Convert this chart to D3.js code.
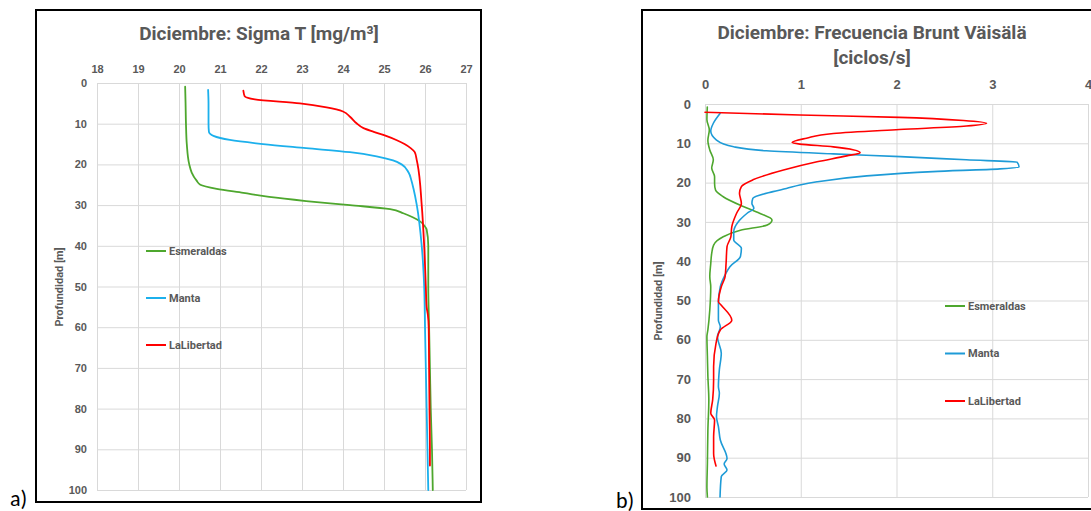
<!DOCTYPE html>
<meta charset="utf-8">
<style>

body {
  margin: 0;
  background: #fff;
}

svg {
  display: block;
  font-family: "Roboto", "Liberation Sans", sans-serif;
}

.grid line {
  stroke: #d9d9d9;
  stroke-width: 1;
}

.grid text {
  fill: #595959;
  font-weight: bold;
}

.title, .ylabel, .legend text {
  fill: #595959;
  font-weight: bold;
}

.profile {
  fill: none;
  stroke-linejoin: round;
  stroke-linecap: round;
}

.box {
  fill: none;
  stroke: #000;
  stroke-width: 2;
}

.panel {
  font-family: Calibri, "Liberation Sans", "Open Sans", sans-serif;
  font-size: 22px;
  fill: #000;
}

</style>
<svg width="1091" height="511"></svg>
<script src="https://cdn.jsdelivr.net/npm/d3@7"></script>
<script>

// ---- data ----
var seriesNames = ["Esmeraldas", "Manta", "LaLibertad"];
var depthTicks = [0, 10, 20, 30, 40, 50, 60, 70, 80, 90, 100];
var sigmaTicks = [18, 19, 20, 21, 22, 23, 24, 25, 26, 27];
var bvTicks = [0, 1, 2, 3, 4];

// a) Sigma T
var esmSigmaDepth = [0.9, 5, 10, 15, 20, 22, 24, 25, 26, 27, 28, 29, 30, 31, 32, 33, 34, 35, 36, 40, 50, 60, 70, 80, 90, 100];
var esmSigma      = [20.15, 20.16, 20.17, 20.19, 20.25, 20.31, 20.43, 20.52, 20.92, 21.57, 22.2, 23.1, 24.17, 25.15, 25.47, 25.7, 25.88, 25.98, 26.04, 26.08, 26.08, 26.1, 26.12, 26.14, 26.17, 26.19];

var manSigmaDepth = [1.7, 5, 10, 12, 12.5, 13, 14, 15, 16, 17, 18, 19, 20, 22, 24, 26, 30, 40, 50, 60, 70, 80, 90, 100];
var manSigma      = [20.71, 20.72, 20.72, 20.73, 20.76, 20.84, 21.24, 22.05, 23.1, 24.17, 24.82, 25.22, 25.43, 25.6, 25.67, 25.72, 25.8, 25.92, 25.98, 26.0, 26.02, 26.04, 26.06, 26.08];

var libSigmaDepth = [1.9, 3.2, 4, 5, 6, 7, 8.3, 9.9, 11.1, 12, 13, 14, 15, 16, 17, 19, 20, 30, 40, 50, 55, 57, 60, 70, 80, 90, 94];
var libSigma      = [21.57, 21.6, 21.85, 22.95, 23.6, 24.0, 24.17, 24.33, 24.5, 24.75, 25.05, 25.3, 25.5, 25.65, 25.75, 25.8, 25.82, 25.92, 25.98, 26.02, 26.04, 26.07, 26.09, 26.1, 26.11, 26.12, 26.12];

// b) Brunt-Vaisala
var esmBvDepth = [0.8, 4, 6.6, 9.2, 11.7, 14.2, 16.3, 18.5, 20.2, 21.9, 23.6, 26.1, 27.8, 29.5, 30.8, 32.1, 33.8, 35.9, 38, 40.6, 43.9, 46.5, 52.4, 57.5, 59.2, 64.2, 69.3, 75.3, 83, 91.5, 97.5, 100];
var esmBv      = [0.024, 0.02, 0.045, 0.03, 0.05, 0.087, 0.07, 0.1, 0.1, 0.11, 0.19, 0.4, 0.57, 0.7, 0.65, 0.37, 0.19, 0.09, 0.07, 0.06, 0.05, 0.06, 0.05, 0.03, 0.02, 0.025, 0.03, 0.04, 0.03, 0.025, 0.02, 0.025];

var manBvDepth = [2.4, 4.9, 6.9, 9.2, 10.9, 11.9, 12.7, 13.4, 14.2, 14.8, 16.0, 16.5, 17.2, 18.3, 19.8, 20.6, 21.5, 22.3, 24.0, 25.3, 26.5, 27.8, 29.9, 32.5, 34.6, 36.7, 38.8, 41.4, 43.5, 46.5, 50.7, 55, 56.7, 59.2, 63.4, 67.6, 71.9, 73.6, 77, 79.6, 82.1, 85.5, 90.2, 91.6, 93.1, 94.8, 100];
var manBv      = [0.157, 0.087, 0.06, 0.12, 0.3, 0.64, 1.34, 2.04, 2.73, 3.26, 3.28, 3.08, 2.38, 1.69, 1.17, 0.99, 0.85, 0.71, 0.5, 0.49, 0.51, 0.44, 0.35, 0.3, 0.3, 0.38, 0.37, 0.26, 0.21, 0.16, 0.14, 0.14, 0.16, 0.13, 0.17, 0.15, 0.14, 0.15, 0.13, 0.12, 0.14, 0.16, 0.23, 0.2, 0.23, 0.17, 0.157];

var libBvDepth = [2.1, 2.8, 3.4, 4.2, 4.9, 5.6, 6.5, 7.5, 8.7, 9.8, 10.2, 10.9, 12.4, 13.2, 14.7, 16.8, 19.3, 21.0, 22.7, 25.3, 27.8, 31.2, 33.8, 36.3, 40.6, 43.9, 46.5, 50.3, 51.2, 55, 57.5, 60.9, 66.8, 70.2, 75.3, 78.7, 80.4, 84.7, 88.9, 92.1];
var libBv      = [0.0, 0.99, 2.03, 2.7, 2.94, 2.73, 2.03, 1.34, 1.06, 0.91, 0.99, 1.34, 1.62, 1.48, 1.17, 0.82, 0.5, 0.38, 0.36, 0.38, 0.33, 0.28, 0.27, 0.23, 0.22, 0.21, 0.17, 0.14, 0.17, 0.28, 0.16, 0.115, 0.09, 0.09, 0.08, 0.06, 0.1, 0.09, 0.09, 0.115];

// ---- drawing ----
var svg = d3.select("svg");

function pairs(depths, values) {
  return depths.map(function(d, i) { return [values[i], d]; });
}

function drawProfile(cfg) {
  var x = d3.scaleLinear().domain(cfg.xDomain).range([cfg.left, cfg.right]);
  var y = d3.scaleLinear().domain([0, 100]).range([cfg.top, cfg.bottom]);
  var w = cfg.right - cfg.left, h = cfg.bottom - cfg.top;

  svg.append("rect").attr("class", "box")
    .attr("x", cfg.box[0]).attr("y", cfg.box[1])
    .attr("width", cfg.box[2]).attr("height", cfg.box[3]);

  var gx = svg.append("g").attr("class", "grid")
    .attr("transform", "translate(0," + cfg.top + ")")
    .call(d3.axisTop(x).tickValues(cfg.xTicks).tickFormat(d3.format("d"))
      .tickSize(-h).tickPadding(cfg.xPad));
  var gy = svg.append("g").attr("class", "grid")
    .attr("transform", "translate(" + cfg.left + ",0)")
    .call(d3.axisLeft(y).tickValues(depthTicks).tickSize(-w).tickPadding(cfg.yPad));
  [gx, gy].forEach(function(g) {
    g.select(".domain").remove();
    g.selectAll("text").style("font-size", cfg.tickFont + "px");
  });

  var titleSel = svg.append("text").attr("class", "title")
    .attr("text-anchor", "middle").style("font-size", cfg.titleFont + "px");
  cfg.title.forEach(function(t, i) {
    titleSel.append("tspan").attr("x", cfg.titleX).attr("y", cfg.titleY + i * 25).text(t);
  });

  svg.append("text").attr("class", "ylabel")
    .attr("transform", "translate(" + cfg.ylabX + "," + cfg.ylabY + ") rotate(-90)")
    .attr("text-anchor", "middle").attr("dy", "0.35em")
    .style("font-size", cfg.ylabFont + "px")
    .text("Profundidad [m]");

  var line = d3.line()
    .x(function(d) { return x(d[0]); })
    .y(function(d) { return y(d[1]); })
    .curve(d3.curveMonotoneY);

  cfg.series.forEach(function(s, i) {
    svg.append("path").attr("class", "profile")
      .attr("d", line(s))
      .attr("stroke", cfg.colors[i])
      .attr("stroke-width", cfg.lineWidth);
  });

  var leg = svg.append("g").attr("class", "legend");
  seriesNames.forEach(function(name, i) {
    var ly = cfg.legY + i * cfg.legStep;
    leg.append("line")
      .attr("x1", cfg.legX).attr("x2", cfg.legX + 20)
      .attr("y1", ly).attr("y2", ly)
      .attr("stroke", cfg.colors[i]).attr("stroke-width", 2);
    leg.append("text")
      .attr("x", cfg.legX + 23).attr("y", ly).attr("dy", "0.35em")
      .style("font-size", cfg.legFont + "px")
      .text(name);
  });

  svg.append("text").attr("class", "panel")
    .attr("x", cfg.panel[0]).attr("y", cfg.panel[1]).text(cfg.panel[2]);
}

drawProfile({
  xDomain: [18, 27], xTicks: sigmaTicks,
  left: 97, right: 466, top: 83, bottom: 490,
  box: [36, 10, 445, 492],
  xPad: 10, yPad: 10, tickFont: 11,
  title: ["Diciembre: Sigma T [mg/m\u00b3]"], titleX: 259, titleY: 40, titleFont: 19,
  ylabX: 59, ylabY: 287, ylabFont: 11,
  colors: ["#4ea72e", "#1cb0ec", "#ff0000"], lineWidth: 1.8,
  series: [pairs(esmSigmaDepth, esmSigma), pairs(manSigmaDepth, manSigma), pairs(libSigmaDepth, libSigma)],
  legX: 146, legY: 251, legStep: 47, legFont: 11,
  panel: [10, 506, "a)"]
});

drawProfile({
  xDomain: [0, 4], xTicks: bvTicks,
  left: 705, right: 1088, top: 104, bottom: 497,
  box: [642, 10, 470, 499],
  xPad: 15, yPad: 14, tickFont: 13,
  title: ["Diciembre: Frecuencia Brunt V\u00e4is\u00e4l\u00e4", "[ciclos/s]"], titleX: 872, titleY: 39, titleFont: 19,
  ylabX: 658, ylabY: 301, ylabFont: 11,
  colors: ["#4ea72e", "#1e9bd7", "#ff0000"], lineWidth: 1.6,
  series: [pairs(esmBvDepth, esmBv), pairs(manBvDepth, manBv), pairs(libBvDepth, libBv)],
  legX: 945, legY: 306, legStep: 47.5, legFont: 11,
  panel: [616, 508, "b)"]
});

</script>
